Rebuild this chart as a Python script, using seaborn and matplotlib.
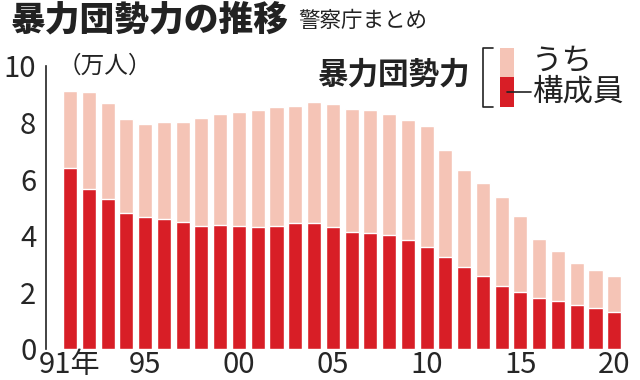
import pandas as pd
import matplotlib.pyplot as plt
import seaborn as sns
from matplotlib.lines import Line2D
from matplotlib.patches import Rectangle

# 暴力団勢力（万人）、警察庁まとめ
anios = list(range(1991, 2021))
total = [9.11, 9.07, 8.68, 8.11, 7.94, 8.00, 8.00, 8.14, 8.30, 8.36,
         8.43, 8.53, 8.59, 8.71, 8.64, 8.47, 8.42, 8.28, 8.09, 7.86,
         7.03, 6.31, 5.87, 5.35, 4.70, 3.90, 3.45, 3.05, 2.80, 2.57]
miembros = [6.39, 5.65, 5.29, 4.80, 4.66, 4.59, 4.48, 4.35, 4.39, 4.35,
            4.31, 4.35, 4.44, 4.43, 4.32, 4.13, 4.09, 4.03, 3.85, 3.59,
            3.26, 2.88, 2.56, 2.23, 2.01, 1.80, 1.69, 1.57, 1.45, 1.31]
etiquetas_x = {1991: "91年", 1995: "95", 2000: "00", 2005: "05",
               2010: "10", 2015: "15", 2020: "20"}

color_total = "#f5c4b6"
color_miembros = "#d81e26"

df = pd.DataFrame({"anio": anios, "total": total, "miembros": miembros})

sns.set_style("white")
plt.rcParams['font.family'] = ['Liberation Sans Narrow', 'Noto Sans CJK JP', 'DejaVu Sans']
cjk = ['Noto Sans CJK JP', 'DejaVu Sans']

fig = plt.figure(figsize=(6.4, 3.8), dpi=100)
ax = fig.add_axes([46 / 640, 31 / 380, 594 / 640, 283.3 / 380])

sns.barplot(data=df, x="anio", y="total", color=color_total, width=0.75,
            saturation=1, ax=ax)
sns.barplot(data=df, x="anio", y="miembros", color=color_miembros, width=0.75,
            saturation=1, ax=ax)

ax.set_ylim(0, 10)
ax.set_xlim(-1.28, 30.37)
ax.set_yticks(range(0, 11, 2))
ax.set_yticklabels([str(v) for v in range(0, 11, 2)], fontsize=21)
pos = [anios.index(a) for a in etiquetas_x]
ax.set_xticks(pos)
ax.set_xticklabels(list(etiquetas_x.values()), fontsize=21)
ax.tick_params(axis='x', length=0, pad=1)
ax.tick_params(axis='y', length=5, width=1.2, direction='out', pad=2, color='#222222')
ax.set_xlabel("")
ax.set_ylabel("")
for s in ["top", "right", "bottom"]:
    ax.spines[s].set_visible(False)
ax.spines["left"].set_linewidth(1.2)
ax.spines["left"].set_color('#222222')

# 見出し
fig.text(10 / 640, 1 - 20 / 380, "暴力団勢力の推移", fontsize=25, fontweight='heavy',
         family=cjk, va='center', ha='left', color='#222222')
fig.text(298 / 640, 1 - 21 / 380, "警察庁まとめ", fontsize=15.5,
         family=cjk, va='center', ha='left', color='#222222')
fig.text(58 / 640, 1 - 66 / 380, "（万人）", fontsize=17,
         family=cjk, va='center', ha='left', color='#222222')

# 凡例
fig.text(470 / 640, 1 - 75 / 380, "暴力団勢力", fontsize=22, fontweight='bold',
         family=cjk, va='center', ha='right', color='#222222')
H = 380
fig.add_artist(Line2D([493 / 640, 483 / 640, 483 / 640, 493 / 640],
                      [1 - 48 / H, 1 - 48 / H, 1 - 107 / H, 1 - 107 / H],
                      color='#222222', lw=1.2))
fig.add_artist(Rectangle((500 / 640, 1 - 77 / H), 14 / 640, 29 / H,
                         color=color_total, lw=0))
fig.add_artist(Rectangle((500 / 640, 1 - 107 / H), 14 / 640, 30 / H,
                         color=color_miembros, lw=0))
fig.add_artist(Line2D([507 / 640, 531 / 640], [1 - 92 / H, 1 - 92 / H],
                      color='#222222', lw=1.2))
fig.text(532 / 640, 1 - 62 / H, "うち", fontsize=22, family=cjk,
         va='center', ha='left', color='#222222')
fig.text(532 / 640, 1 - 92 / H, "構成員", fontsize=22, family=cjk,
         va='center', ha='left', color='#222222')

fig.savefig("out.png", dpi=100)
plt.close()
